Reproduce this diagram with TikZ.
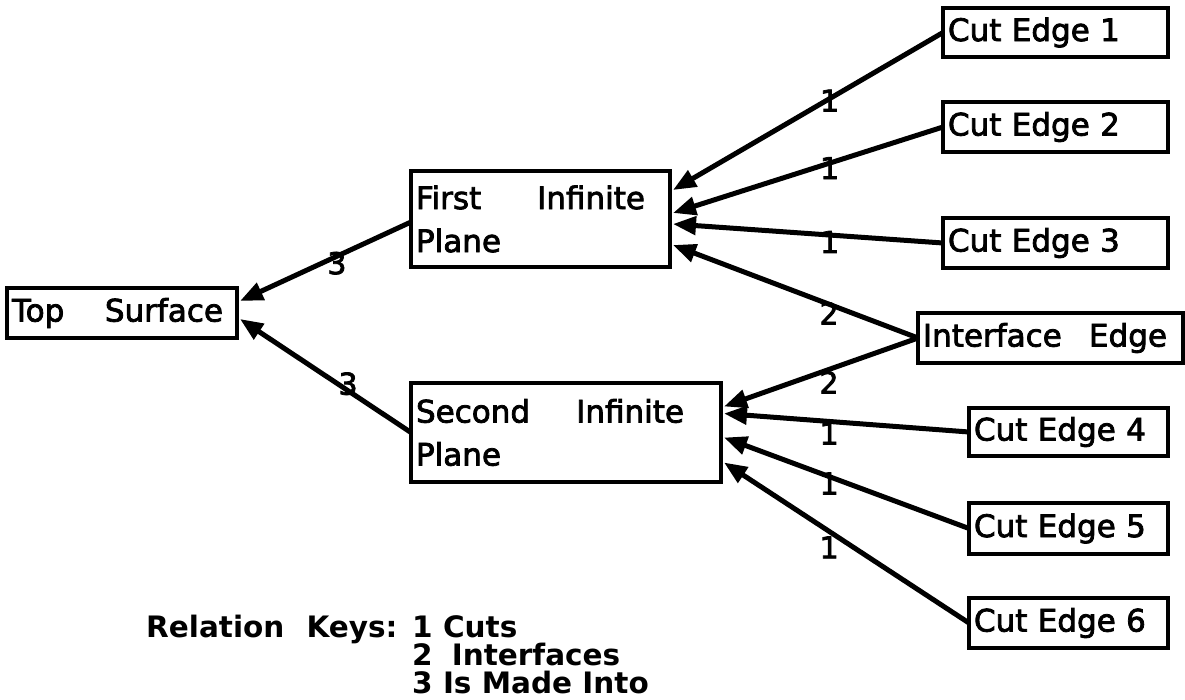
\documentclass[tikz,border=0pt]{standalone}
\usepackage{fontspec}
\setmainfont{DejaVu Sans}
\newfontfamily\boxfont{DejaVu Sans}[RawFeature={embolden=2.5}]
\usetikzlibrary{arrows.meta}
\begin{document}
\begin{tikzpicture}[x=1pt,y=-1pt,
  box/.style={draw, line width=3.5pt, anchor=north west, align=left,
    inner xsep=5pt, inner ysep=0pt, outer sep=0pt,
    font=\boxfont\fontsize{31}{43}\selectfont},
  rel/.style={line width=5pt, -{Triangle[length=23pt,width=18pt]}},
  num/.style={font=\boxfont\fontsize{30}{30}\selectfont, inner sep=0pt},
  key/.style={font=\fontsize{29.5}{29.5}\selectfont\bfseries, inner sep=0pt, anchor=base west},
]
\useasboundingbox (0,0) rectangle (1185,699);

% boxes
\node[box, minimum width=230pt, minimum height=50pt, text width=220pt] (top) at (7,288) {\hbox to 211pt{Top\hfill Surface}};
\node[box, minimum width=259pt, minimum height=96pt, text width=249pt] (first) at (411,171) {\hbox to 229pt{First\hfill Infinite}\\Plane};
\node[box, minimum width=310pt, minimum height=99pt, text width=300pt] (second) at (411,383) {\hbox to 268pt{Second\hfill Infinite}\\Plane};

\node[box, minimum width=225pt, minimum height=49pt, text width=215pt] (cut1) at (943,8) {Cut Edge 1};
\node[box, minimum width=225pt, minimum height=50pt, text width=215pt] (cut2) at (943,102) {Cut Edge 2};
\node[box, minimum width=225pt, minimum height=50pt, text width=215pt] (cut3) at (943,218) {Cut Edge 3};
\node[box, minimum width=265pt, minimum height=50pt, text width=255pt] (iface) at (918,313) {\hbox to 244pt{Interface\hfill Edge}};
\node[box, minimum width=199pt, minimum height=48pt, text width=189pt] (cut4) at (969,408) {Cut Edge 4};
\node[box, minimum width=199pt, minimum height=51pt, text width=189pt] (cut5) at (969,503) {Cut Edge 5};
\node[box, minimum width=199pt, minimum height=50pt, text width=189pt] (cut6) at (969,598) {Cut Edge 6};

% relations into the top surface
\draw[rel] ([yshift=-3pt]first.west) -- node[num, pos=0.433, yshift=-7pt] {3} ([xshift=3pt,yshift=12pt]top.east);
\draw[rel] (second.west) -- node[num, pos=0.368, yshift=7pt] {3} ([xshift=3pt,yshift=-6pt]top.east);

% relations into the first plane
\draw[rel] (cut1.west) -- node[num, pos=0.42, yshift=-2pt] {1} ([xshift=3pt,yshift=29pt]first.east);
\draw[rel] (cut2.west) -- node[num, pos=0.42, yshift=-5pt] {1} ([xshift=3pt,yshift=6pt]first.east);
\draw[rel] (cut3.west) -- node[num, pos=0.42, yshift=-7pt] {1} ([xshift=3pt,yshift=-5pt]first.east);
\draw[rel] (iface.west) -- node[num, pos=0.363, yshift=-9pt] {2} ([xshift=3pt,yshift=-26pt]first.east);

% relations into the second plane
\draw[rel] (iface.west) -- node[num, pos=0.459, yshift=-13pt] {2} ([xshift=3pt,yshift=26pt]second.east);
\draw[rel] (cut4.west) -- node[num, pos=0.571, yshift=-12pt] {1} ([xshift=3pt,yshift=19pt]second.east);
\draw[rel] (cut5.west) -- node[num, pos=0.571, yshift=-7pt] {1} ([xshift=3pt,yshift=-5pt]second.east);
\draw[rel] (cut6.west) -- node[num, pos=0.571, yshift=-16pt] {1} ([xshift=3pt,yshift=-30pt]second.east);

% key
\node[key] (keyhead) at (146,637) {Relation\hspace{0.4em} Keys:};
\node[key] (key1) at (412,637) {1 Cuts};
\node[key] (key2) at (412,665.5) {2\hspace{0.3em} Interfaces};
\node[key] (key3) at (412,693.5) {3 Is Made Into};
\end{tikzpicture}
\end{document}
